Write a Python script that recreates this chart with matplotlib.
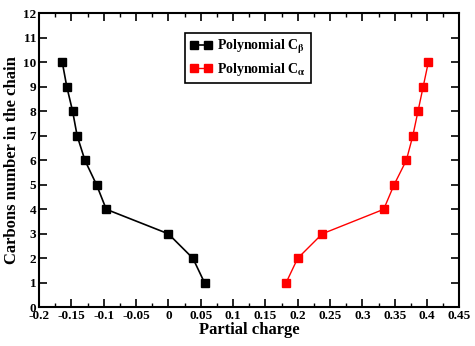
import numpy as np
import matplotlib
matplotlib.use("Agg")
import matplotlib.pyplot as plt
from matplotlib.ticker import MultipleLocator

plt.rcParams['font.family'] = ['Liberation Serif', 'DejaVu Serif']
plt.rcParams['font.weight'] = 'bold'
plt.rcParams['mathtext.fontset'] = 'stix'

# Datos
carbons = [1, 2, 3, 4, 5, 6, 7, 8, 9, 10]
charge_beta = [0.056, 0.038, 0.0, -0.096, -0.111, -0.129, -0.141, -0.148, -0.157, -0.164]
charge_alpha = [0.182, 0.200, 0.238, 0.333, 0.349, 0.368, 0.378, 0.386, 0.394, 0.402]

xticks = [-0.2, -0.15, -0.1, -0.05, 0, 0.05, 0.1, 0.15, 0.2, 0.25, 0.3, 0.35, 0.4, 0.45]
xticklabels = ['-0.2', '-0.15', '-0.1', '-0.05', '0', '0.05', '0.1', '0.15', '0.2',
               '0.25', '0.3', '0.35', '0.4', '0.45']

fig = plt.figure(figsize=(4.75, 3.46), dpi=100)
ax = fig.add_axes([0.0821, 0.1118, 0.885, 0.8498])

ax.plot(charge_beta, carbons, 'k-', marker='s', ms=6, lw=1.2,
        label=r'Polynomial C$_{\mathrm{\beta}}$')
ax.plot(charge_alpha, carbons, color='red', marker='s', ms=6, lw=1.0,
        label=r'Polynomial C$_{\mathrm{\alpha}}$')

ax.set_xlim(-0.2, 0.45)
ax.set_ylim(0, 12)
ax.set_xticks(xticks)
ax.set_xticklabels(xticklabels)
ax.set_yticks(range(0, 13))
ax.xaxis.set_minor_locator(MultipleLocator(0.025))

ax.tick_params(which='both', direction='in', top=True, right=True,
               labelsize=9.5, pad=2)
ax.tick_params(which='major', length=6, width=1.2)
ax.tick_params(which='minor', length=3, width=1.0)
for lbl in ax.get_xticklabels() + ax.get_yticklabels():
    lbl.set_fontweight('bold')
for s in ax.spines.values():
    s.set_linewidth(1.5)

ax.set_xlabel('Partial charge', fontsize=12, fontweight='bold', labelpad=0)
ax.set_ylabel('Carbons number in the chain', fontsize=12, fontweight='bold', labelpad=2)

leg = ax.legend(loc='upper left', bbox_to_anchor=(0.348, 0.932),
                fancybox=False, framealpha=1, edgecolor='black', numpoints=2,
                handlelength=1.6, borderpad=0.35, labelspacing=0.35,
                handletextpad=0.35, borderaxespad=0,
                prop={'weight': 'bold', 'size': 10})
leg.get_frame().set_linewidth(1.2)

plt.savefig('out.png', dpi=100)
